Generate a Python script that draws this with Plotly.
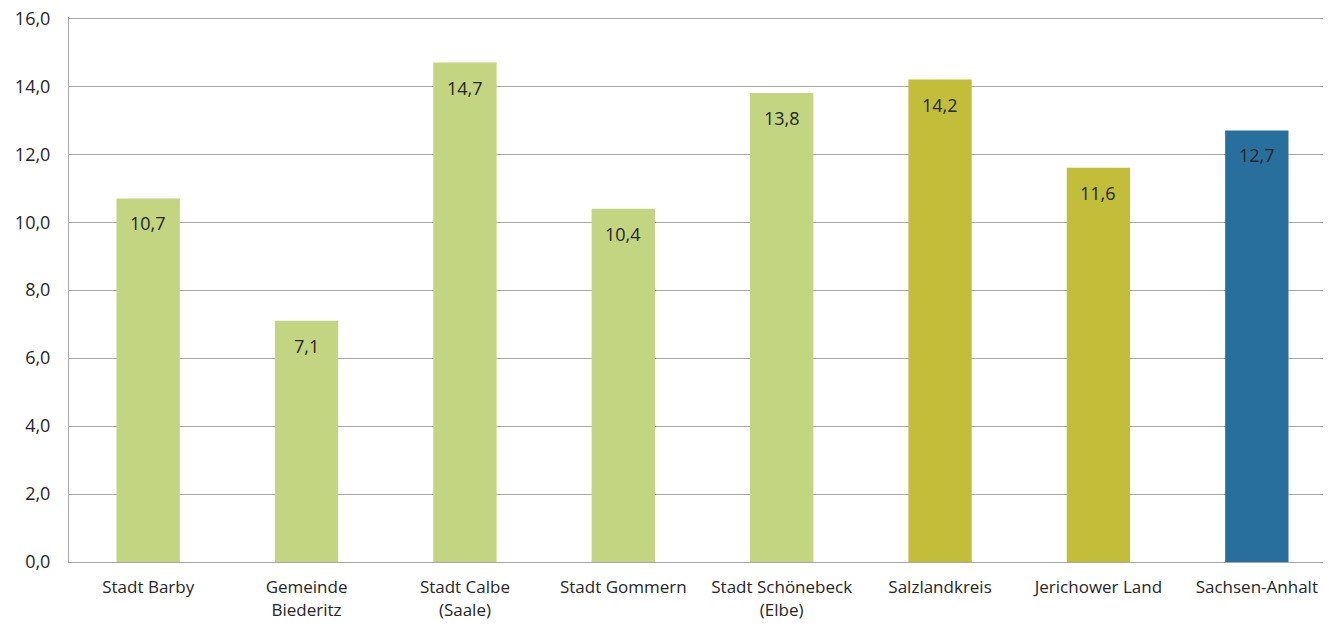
import plotly.graph_objects as go

kategorien = ['Stadt Barby', 'Gemeinde<br>Biederitz', 'Stadt Calbe<br>(Saale)', 'Stadt Gommern',
              'Stadt Schönebeck<br>(Elbe)', 'Salzlandkreis', 'Jerichower Land', 'Sachsen-Anhalt']
werte = [10.7, 7.1, 14.7, 10.4, 13.8, 14.2, 11.6, 12.7]
farben = ['#c3d580', '#c3d580', '#c3d580', '#c3d580', '#c3d580', '#c2be3a', '#c2be3a', '#296f9e']

fig = go.Figure()
fig.add_trace(go.Bar(x=kategorien, y=werte, marker_color=farben, marker_line_width=0))

for k, w in zip(kategorien, werte):
    fig.add_annotation(x=k, y=w, text=f'{w:.1f}'.replace('.', ','), showarrow=False,
                       yshift=-25, font=dict(size=18, color='#262626'))

# die Seite hat 8px Rand, daher Margins entsprechend kleiner
fig.update_layout(
    width=1331, height=627,
    margin=dict(l=61, r=3, t=9, b=73),
    plot_bgcolor='white', paper_bgcolor='white',
    bargap=0.6, showlegend=False,
    separators=',.',
    font=dict(family='Open Sans', size=17, color='#262626'),
)
# Bereich minimal über 16, damit die oberste Gitterlinie sichtbar bleibt
fig.update_yaxes(range=[0, 16.04], tickvals=[0, 2, 4, 6, 8, 10, 12, 14, 16], tickformat='.1f',
                 showgrid=True, gridcolor='#a6a6a6',
                 gridwidth=1, showline=True, linecolor='#a6a6a6', zeroline=False,
                 ticklabelstandoff=14, tickfont=dict(size=18), automargin=False,
                 ticklabeloverflow='allow')
fig.update_xaxes(showline=True, linecolor='#a6a6a6', ticks='', mirror=False,
                 ticklabelstandoff=10, tickfont=dict(size=17), automargin=False)

fig.write_html('out.html')
